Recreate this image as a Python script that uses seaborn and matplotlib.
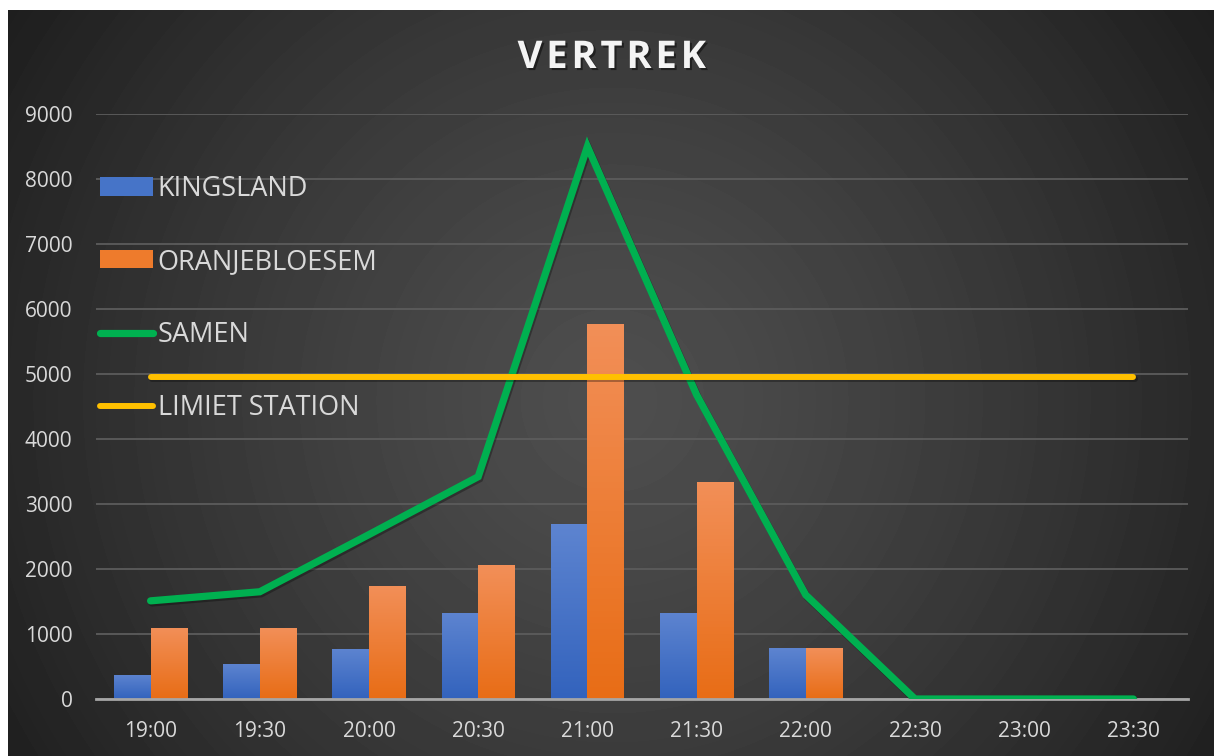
import numpy as np
import pandas as pd
import matplotlib
matplotlib.use("Agg")
import matplotlib.pyplot as plt
import matplotlib.patheffects as pe
from matplotlib.colors import LinearSegmentedColormap
from matplotlib.patches import Patch
from matplotlib.lines import Line2D
import seaborn as sns

# Data
times = ["19:00", "19:30", "20:00", "20:30", "21:00", "21:30", "22:00", "22:30", "23:00", "23:30"]
kingsland = [370, 540, 775, 1330, 2690, 1330, 780, 0, 0, 0]
oranjebloesem = [1100, 1100, 1745, 2060, 5765, 3345, 780, 0, 0, 0]
samen = [1510, 1650, 2530, 3420, 8500, 4680, 1600, 0, 0, 0]
limiet = [4950, 4950, 4950, 4950, 4950, 4950, 4950, 4950, 4950, 4950]

BLUE = "#4674c8"
ORANGE = "#ee7b2c"
GREEN = "#00b050"
YELLOW = "#ffc000"
TEXT = "#d9d9d9"

W, H = 1214, 756
plt.rcParams["font.family"] = ["Open Sans", "DejaVu Sans"]

fig = plt.figure(figsize=(W / 100, H / 100), dpi=100, facecolor="white")

# dark radial background
bg = fig.add_axes([8 / W, 0, 1 - 8 / W, 1 - 10 / H])
bg.axis("off")
bw, bh = W - 8, H - 10
yy, xx = np.mgrid[0:bh, 0:bw]
r = np.sqrt((xx - 604) ** 2 + (yy - 390) ** 2) / 720
shade = (0x4e - (0x4e - 0x1e) * np.clip(r, 0, 1) ** 1.3) / 255
bg.imshow(shade, cmap="gray", vmin=0, vmax=1, aspect="auto", extent=(0, 1, 0, 1), interpolation="bilinear")
bg.set_xlim(0, 1)
bg.set_ylim(0, 1)

ax = fig.add_axes([96 / W, 1 - 699 / H, (1188 - 96) / W, (699 - 114) / H])
ax.patch.set_alpha(0)

df = pd.DataFrame({
    "tijd": times * 2,
    "aantal": kingsland + oranjebloesem,
    "locatie": ["KINGSLAND"] * len(times) + ["ORANJEBLOESEM"] * len(times),
})
sns.barplot(data=df, x="tijd", y="aantal", hue="locatie", palette=[BLUE, ORANGE],
            width=0.67, gap=0, saturation=1, legend=False, ax=ax, zorder=2)

# vertical gradient fill on each bar
grad_blue = LinearSegmentedColormap.from_list("b", ["#3363bd", "#5d84d0"])
grad_orange = LinearSegmentedColormap.from_list("o", ["#e86d16", "#f28f58"])
for bar in ax.patches:
    h = bar.get_height()
    if h <= 0:
        continue
    cmap = grad_blue if bar.get_facecolor()[2] > 0.5 else grad_orange
    x0 = bar.get_x()
    img = ax.imshow(np.linspace(1, 0, 64).reshape(-1, 1), cmap=cmap, aspect="auto",
                    extent=(x0, x0 + bar.get_width(), 0, h), zorder=2.1)
    img.set_clip_path(bar)

shadow = [pe.SimpleLineShadow(offset=(1, -1.5), shadow_color="black", alpha=0.3), pe.Normal()]
xpos = np.arange(len(times))
sns.lineplot(x=xpos, y=samen, color=GREEN, lw=5.2, ax=ax, zorder=4,
             solid_capstyle="round", solid_joinstyle="miter", path_effects=shadow)
sns.lineplot(x=xpos, y=limiet, color=YELLOW, lw=4.3, ax=ax, zorder=4,
             solid_capstyle="round", path_effects=shadow)

ax.set_xlim(-0.5, len(times) - 0.5)
ax.set_ylim(0, 9000)
ax.set_yticks(range(0, 9001, 1000))
ax.set_xticks(xpos)
ax.set_xticklabels(times)
ax.set_xlabel("")
ax.set_ylabel("")
ax.yaxis.grid(True, color="#5c5c5c", lw=1.3, zorder=0)
ax.xaxis.grid(False)
ax.set_axisbelow(True)
for side in ["left", "right", "top"]:
    ax.spines[side].set_visible(False)
ax.spines["bottom"].set_color("#a6a6a6")
ax.spines["bottom"].set_linewidth(2)
ax.spines["bottom"].set_zorder(3)
ax.tick_params(axis="both", colors=TEXT, labelsize=15, length=0)
ax.tick_params(axis="y", pad=17)
ax.tick_params(axis="x", pad=16)

fig.text(612 / W, 1 - 58 / H, "V\u200aE\u200aR\u200aT\u200aR\u200aE\u200aK", ha="center", va="center",
         fontsize=27.5, fontweight="bold", color="#f4f4f4",
         path_effects=[pe.withSimplePatchShadow(offset=(1.5, -1.5), shadow_rgbFace="black", alpha=0.45)])

handles = [
    Patch(facecolor=BLUE, edgecolor="none"),
    Patch(facecolor=ORANGE, edgecolor="none"),
    Line2D([], [], color=GREEN, lw=5.2, solid_capstyle="round"),
    Line2D([], [], color=YELLOW, lw=4.3, solid_capstyle="round"),
]
labels = ["KINGSLAND", "ORANJEBLOESEM", "SAMEN", "LIMIET STATION"]
fig.legend(handles, labels, loc="upper left", bbox_to_anchor=(100 / W, 1 - 175 / H),
           frameon=False, fontsize=19.5, labelcolor=TEXT, handlelength=1.95,
           handleheight=0.65, handletextpad=0.18, labelspacing=1.66,
           borderpad=0, borderaxespad=0)

fig.savefig("out.png", dpi=100, facecolor="white")
